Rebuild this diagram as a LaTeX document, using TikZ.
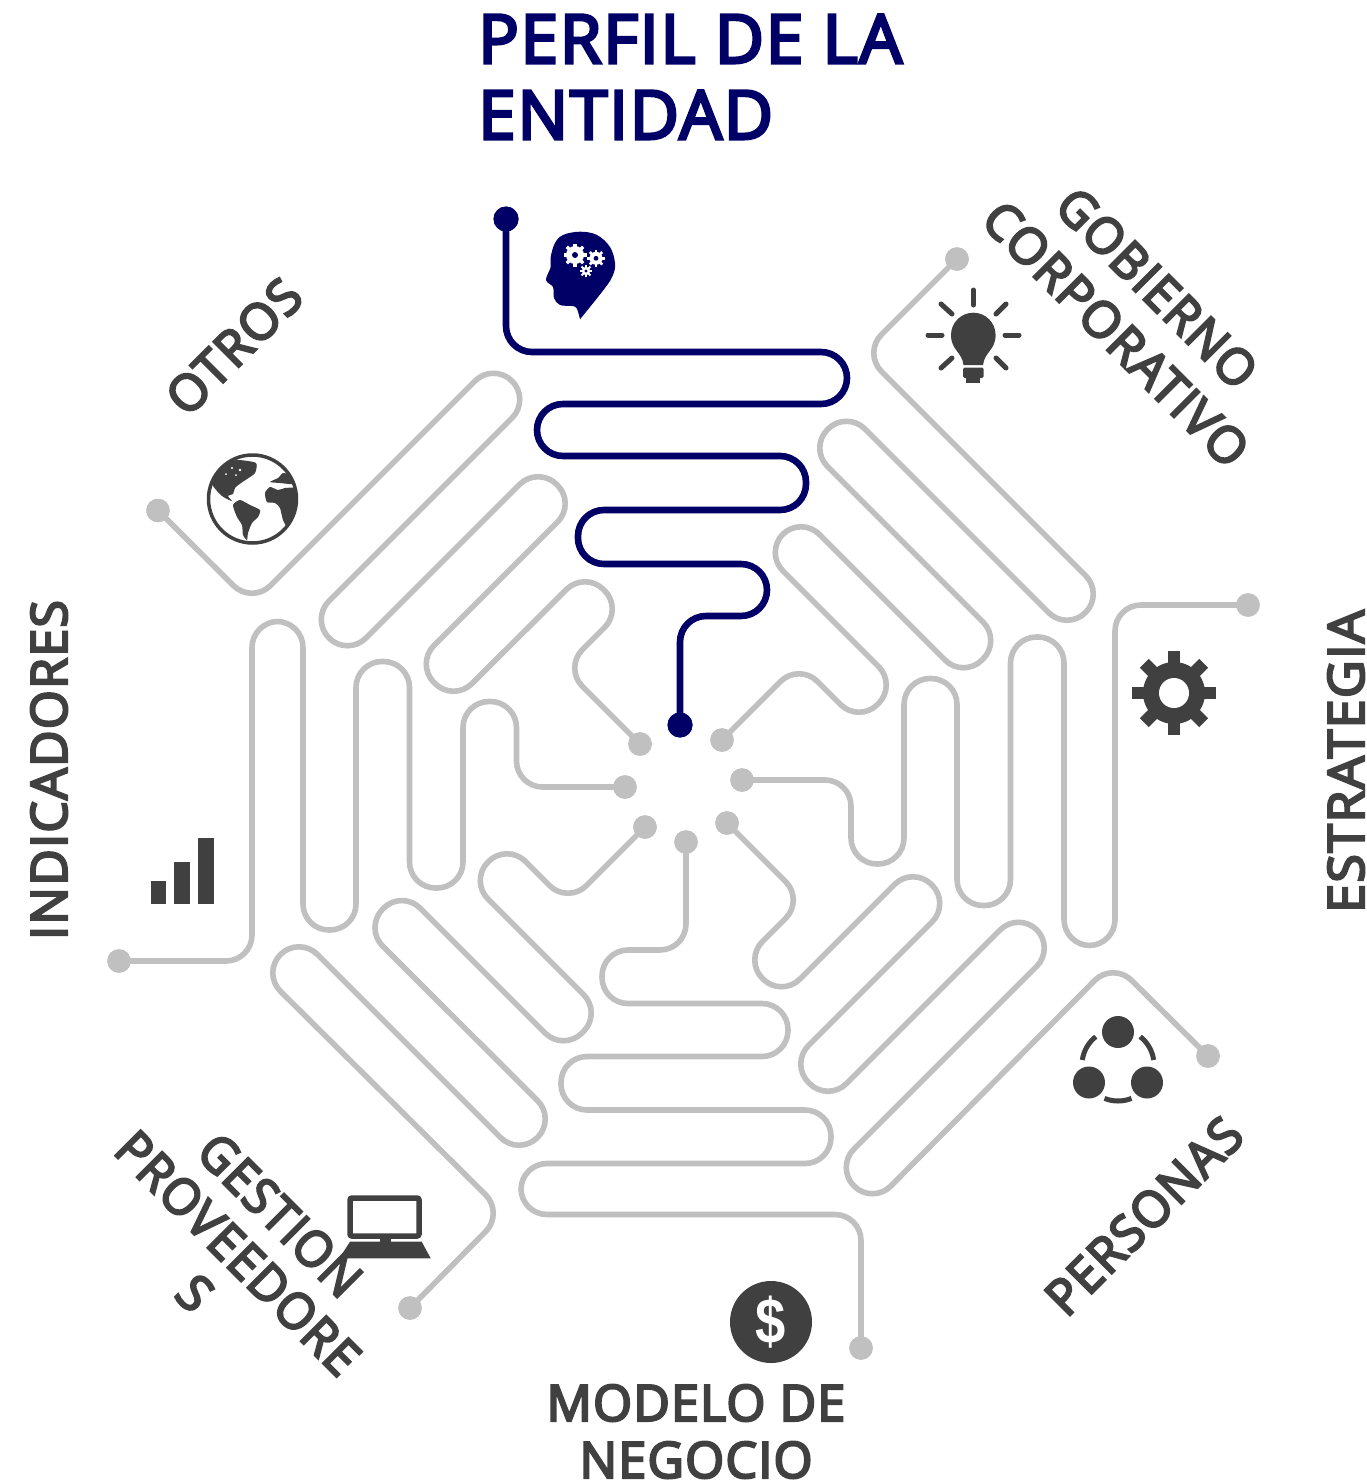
\documentclass[tikz,border=0pt]{standalone}
\usepackage{fontspec}
\setmainfont{Open Sans}
\newfontfamily\semi[FakeBold=4.5,LetterSpace=2.6]{Open Sans}
\newfontfamily\dollarfont{Liberation Sans}
\definecolor{wire}{RGB}{192,192,192}
\definecolor{navyb}{RGB}{0,0,102}
\definecolor{darkg}{RGB}{64,64,64}
\newcommand{\gearicon}[8]{% x y bodyr teethR holer toothw col holecol
  \fill[#7] (#1,#2) circle[radius=#3];
  \foreach \a in {0,45,...,315}{\draw[#7,line width=#6pt] (#1,#2) -- ++(\a:#4);}
  \fill[#8] (#1,#2) circle[radius=#5];
}
\tikzset{
  wirepath/.style={draw=wire,line width=5.6pt,rounded corners=26pt},
  bluepath/.style={draw=navyb,line width=6.6pt,rounded corners=26pt},
  wiredot/.style={circle,fill=wire,inner sep=0pt,minimum size=23.5pt},
  bluedot/.style={circle,fill=navyb,inner sep=0pt,minimum size=25pt},
  lbl/.style={inner sep=0pt,text=darkg,font=\semi\fontsize{50}{50}\selectfont},
  ttl/.style={inner sep=0pt,anchor=base west,text=navyb,font=\semi\fontsize{67.5}{67.5}\selectfont},
  ray/.style={draw=darkg,line width=5pt,line cap=round},
  arcw/.style={draw=darkg,line width=5pt},
}
\begin{document}
\begin{tikzpicture}[x=1pt,y=-1pt]
\useasboundingbox (0,0) rectangle (1367,1480);

% end points
\node[bluedot] (bS) at (506,219) {};
\node[bluedot] (bE) at (680,725) {};
\node[wiredot] (gS) at (957,259) {};
\node[wiredot] (gE) at (722,740) {};
\node[wiredot] (eS) at (1248,605) {};
\node[wiredot] (eE) at (742,780) {};
\node[wiredot] (pS) at (1208,1056) {};
\node[wiredot] (pE) at (727,823) {};
\node[wiredot] (mS) at (861,1348) {};
\node[wiredot] (mE) at (686,842) {};
\node[wiredot] (vS) at (410,1308) {};
\node[wiredot] (vE) at (645,827) {};
\node[wiredot] (iS) at (119,961) {};
\node[wiredot] (iE) at (625,787) {};
\node[wiredot] (oS) at (158,510.5) {};
\node[wiredot] (oE) at (640,744) {};

\draw[bluepath] (bS.center) -- (506,352) -- (847,352) -- (847,404) -- (537,404) -- (537,456) -- (806,456) -- (806,510) -- (578,510) -- (578,564) -- (767,564) -- (767,616) -- (680,616) -- (bE.center);
\draw[wirepath] (gS.center) -- (863,353) -- (1104,594) -- (1067,631) -- (846.5,410.5) -- (809,448) -- (1001.5,640.5) -- (963.5,678.5) -- (801,516) -- (764.5,552.5) -- (897,685) -- (859,723) -- (799,663) -- (gE.center);
\draw[wirepath] (eS.center) -- (1115,605) -- (1115,945.5) -- (1064,945.5) -- (1064,637) -- (1010.5,637) -- (1010.5,905.5) -- (957,905.5) -- (957,678.5) -- (904,678.5) -- (904,864) -- (851,864) -- (851,780) -- (eE.center);
\draw[wirepath] (pS.center) -- (1113,962) -- (872.5,1204.5) -- (835.5,1167.5) -- (1055,948) -- (1018.5,911.5) -- (828,1102) -- (790,1064) -- (950.5,903.5) -- (913,866) -- (781.5,997.5) -- (744,960) -- (804,900) -- (pE.center);
\draw[wirepath] (mS.center) -- (861,1214.5) -- (521,1214.5) -- (521,1163.5) -- (831,1163.5) -- (831,1110) -- (561,1110) -- (561,1056.5) -- (788,1056.5) -- (788,1003.5) -- (602,1003.5) -- (602,950) -- (686,950) -- (mE.center);
\draw[wirepath] (vS.center) -- (504,1213) -- (262,973) -- (299,936) -- (519,1156) -- (556,1119) -- (364.25,927.75) -- (401.75,889.75) -- (563.5,1051.5) -- (602,1013) -- (469.5,880.5) -- (507,843) -- (568,904) -- (vE.center);
\draw[wirepath] (iS.center) -- (252,961) -- (252,621.5) -- (303,621.5) -- (303,930) -- (356,930) -- (356,661.5) -- (409.5,661.5) -- (409.5,888) -- (463,888) -- (463,701.5) -- (516.5,701.5) -- (516.5,787) -- (iE.center);
\draw[wirepath] (oS.center) -- (252,604) -- (493.5,362.5) -- (530.5,399.5) -- (310.5,619.5) -- (347.5,656.5) -- (538,466) -- (576,503.5) -- (415.5,664) -- (453.5,702) -- (585,571) -- (623,609) -- (564,668) -- (oE.center);
% dots over the wires
\foreach \n in {gS,gE,eS,eE,pS,pE,mS,mE,vS,vE,iS,iE,oS,oE}{\fill[wire] (\n.center) circle[radius=11.75];}
\foreach \n in {bS,bE}{\fill[navyb] (\n.center) circle[radius=12.5];}

% head icon
\fill[navyb] plot[smooth,tension=.6] coordinates {(580,319.3) (605,288) (613,275) (615,263) (610,247) (597,235) (580,231.7) (563,235) (555,243) (550.7,257) (550.7,267) (546,280) (553,287) (554,298) (560,305) (571.7,306) (576.7,308.3) (580,319.3)} -- cycle;
\gearicon{575}{255}{9}{11.5}{3}{3.4}{white}{navyb}
\gearicon{596}{258.3}{6.5}{8.8}{2.4}{2.6}{white}{navyb}
\gearicon{586}{271}{4.2}{6.2}{1.6}{2}{white}{navyb}

% bulb icon
\fill[darkg] (963.5,365) .. controls (962,352) and (951,350) .. (951,335) arc (180:360:22.3) .. controls (995.6,350) and (984.5,352) .. (983,365) -- cycle;
\fill[darkg,rounded corners=1.5pt] (963,367.5) rectangle (983.5,378);
\fill[darkg] (966,378) rectangle (980,383);
\draw[ray] (973.3,290) -- (973.3,305);
\draw[ray] (928,335) -- (942,335);
\draw[ray] (1005,335) -- (1019,335);
\draw[ray] (941,304) -- (952,314);
\draw[ray] (1006,304) -- (996,314);
\draw[ray] (941,368) -- (952,358);
\draw[ray] (1006,368) -- (996,358);

% gear icon
\gearicon{1174}{693}{31}{42}{15}{12.5}{darkg}{white}

% people icon
\fill[darkg] (1118,1032) circle[radius=16];
\fill[darkg] (1089,1082.5) circle[radius=16];
\fill[darkg] (1147,1082.5) circle[radius=16];
\draw[arcw] (1118,1065) ++(188:36) arc (188:232:36);
\draw[arcw] (1118,1065) ++(308:36) arc (308:352:36);
\draw[arcw] (1118,1065) ++(68:36) arc (68:112:36);

% computer icon
\draw[darkg,line width=5.5pt,rounded corners=2pt] (350,1198) rectangle (419,1236);
\fill[darkg] (380,1238) rectangle (391,1242);
\fill[darkg] (350,1241.7) -- (421.7,1241.7) -- (430.7,1258.3) -- (339.3,1258.3) -- cycle;

% bars icon
\fill[darkg] (150.7,880.5) rectangle (166.4,904);
\fill[darkg] (174.3,861.5) rectangle (190,904);
\fill[darkg] (197.9,837.6) rectangle (213.6,904);

% globe icon
\draw[darkg,line width=3.5pt] (252.5,499) circle[radius=44];
\begin{scope}
\clip (252.5,499) circle[radius=43];
\fill[darkg] plot[smooth cycle,tension=.4] coordinates {(212,484) (212,472) (225,463) (238,460) (256,463) (255,473) (247,479) (241,483) (235,488) (233,494) (228,496) (232,501) (227,499) (222,496) (217,491)};
\fill[darkg] plot[smooth cycle,tension=.4] coordinates {(233,505) (240,500) (250,505) (260,510) (258,517) (252,523) (248,533) (247,540) (243,535) (242,525) (237,517)};
\fill[darkg] plot[smooth cycle,tension=.4] coordinates {(265,493) (270,487) (278,490) (285,488) (297,488) (300,495) (297,512) (288,527) (283,520) (280,508) (275,503) (267,502)};
\fill[darkg] plot[smooth cycle,tension=.4] coordinates {(270,482) (278,478) (283,473) (290,475) (298,480) (292,484) (280,483)};
\fill[white] (232,468) circle[radius=1.2] (240,470) circle[radius=1.4] (226,474) circle[radius=1] (236,475) circle[radius=1];
\end{scope}

% dollar icon
\fill[darkg] (771,1322) circle[radius=41];
\node[inner sep=0pt,text=white,xscale=.85,font=\dollarfont\bfseries\fontsize{64}{64}\selectfont] (dl) at (771,1322) {\$};

% titles and labels
\node[ttl] (t1) at (478,63) {PERFIL DE LA};
\node[ttl] (t2) at (478,139) {ENTIDAD};
\node[lbl,rotate=-45,xscale=.975] (l1) at (1157,288) {GOBIERNO};
\node[lbl,rotate=-45] (l2) at (1116,334) {CORPORATIVO};
\node[lbl,rotate=90,xscale=1.04] (l3) at (1346,761.5) {ESTRATEGIA};
\node[lbl,rotate=45,xscale=.975] (l4) at (1144,1216) {PERSONAS};
\node[lbl] (l5) at (696,1403) {MODELO DE};
\node[lbl] (l6) at (696,1460) {NEGOCIO};
\node[lbl,rotate=-45,xscale=.95] (l7) at (280,1215) {GESTION};
\node[lbl,rotate=-45,xscale=.97] (l8) at (238,1253) {PROVEEDORE};
\node[lbl,rotate=-45] (l9) at (195,1293) {S};
\node[lbl,rotate=90] (l10) at (49,770) {INDICADORES};
\node[lbl,rotate=45] (l11) at (234,346.5) {OTROS};
\end{tikzpicture}
\end{document}
